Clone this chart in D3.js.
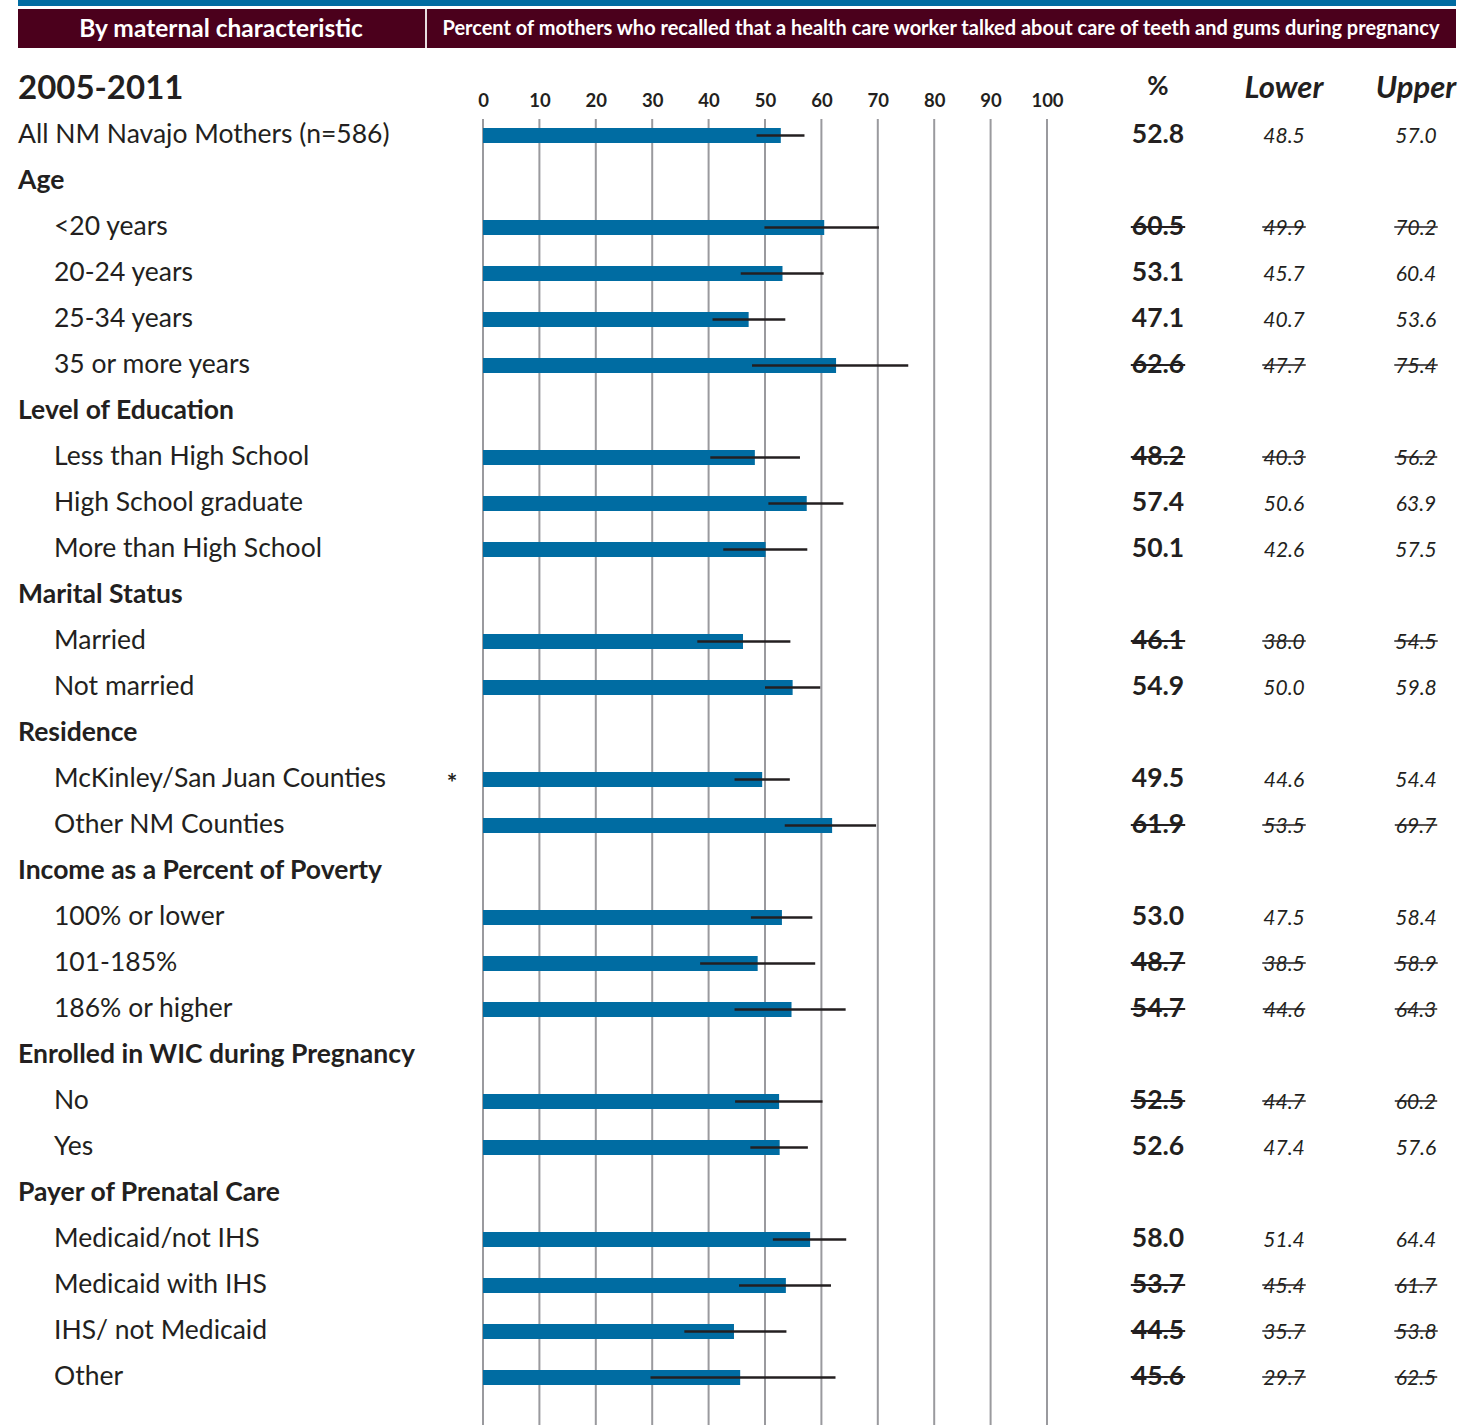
<!DOCTYPE html>
<html>
<head>
<meta charset="utf-8">
<script src="https://cdn.jsdelivr.net/npm/d3@7"></script>
<style>
  html, body { margin: 0; padding: 0; background: #fff; }
  svg { display: block; font-family: Lato, "Open Sans", sans-serif; }
</style>
</head>
<body>
<svg id="chart" width="1460" height="1425"></svg>
<script>
// Row labels; kind: "all" = overall row, "group" = section heading, "item" = subgroup
const rowLabels = [
  "All NM Navajo Mothers (n=586)",
  "Age", "<20 years", "20-24 years", "25-34 years", "35 or more years",
  "Level of Education", "Less than High School", "High School graduate", "More than High School",
  "Marital Status", "Married", "Not married",
  "Residence", "McKinley/San Juan Counties", "Other NM Counties",
  "Income as a Percent of Poverty", "100% or lower", "101-185%", "186% or higher",
  "Enrolled in WIC during Pregnancy", "No", "Yes",
  "Payer of Prenatal Care", "Medicaid/not IHS", "Medicaid with IHS", "IHS/ not Medicaid", "Other"
];
const rowKind = [
  "all",
  "group", "item", "item", "item", "item",
  "group", "item", "item", "item",
  "group", "item", "item",
  "group", "item", "item",
  "group", "item", "item", "item",
  "group", "item", "item",
  "group", "item", "item", "item", "item"
];
// Percent estimate with 95% confidence limits (null for section headings)
const pct = [52.8, null, 60.5, 53.1, 47.1, 62.6, null, 48.2, 57.4, 50.1, null, 46.1, 54.9,
  null, 49.5, 61.9, null, 53.0, 48.7, 54.7, null, 52.5, 52.6, null, 58.0, 53.7, 44.5, 45.6];
const lower = [48.5, null, 49.9, 45.7, 40.7, 47.7, null, 40.3, 50.6, 42.6, null, 38.0, 50.0,
  null, 44.6, 53.5, null, 47.5, 38.5, 44.6, null, 44.7, 47.4, null, 51.4, 45.4, 35.7, 29.7];
const upper = [57.0, null, 70.2, 60.4, 53.6, 75.4, null, 56.2, 63.9, 57.5, null, 54.5, 59.8,
  null, 54.4, 69.7, null, 58.4, 58.9, 64.3, null, 60.2, 57.6, null, 64.4, 61.7, 53.8, 62.5];
// Estimates flagged as unreliable (shown struck through)
const unreliable = [false, false, true, false, false, true, false, true, false, false, false, true, false,
  false, false, true, false, false, true, true, false, true, false, false, false, true, true, true];
// Rows marked with a significance asterisk
const starred = [false, false, false, false, false, false, false, false, false, false, false, false, false,
  false, true, false, false, false, false, false, false, false, false, false, false, false, false, false];
const xTicks = [0, 10, 20, 30, 40, 50, 60, 70, 80, 90, 100];

const svg = d3.select("#chart");
const maroon = "#4b001c", blue = "#006ca2", ink = "#231f20";

// Header bands
svg.append("rect").attr("x", 18).attr("y", 0).attr("width", 1438).attr("height", 6).attr("fill", blue);
svg.append("rect").attr("x", 18).attr("y", 9).attr("width", 1438).attr("height", 39).attr("fill", maroon);
svg.append("rect").attr("x", 425).attr("y", 9).attr("width", 2).attr("height", 39).attr("fill", "#e8dde0");
svg.append("text").attr("x", 221).attr("y", 37).attr("text-anchor", "middle")
  .attr("fill", "#fff").attr("font-weight", 700).attr("font-size", 24.5)
  .text("By maternal characteristic");
svg.append("text").attr("x", 941).attr("y", 35).attr("text-anchor", "middle")
  .attr("fill", "#fff").attr("font-weight", 700).attr("font-size", 20)
  .text("Percent of mothers who recalled that a health care worker talked about care of teeth and gums during pregnancy");

svg.append("text").attr("x", 18).attr("y", 99).attr("font-weight", 700).attr("font-size", 33)
  .attr("fill", ink).text("2005-2011");

// Scales
const x = d3.scaleLinear().domain([0, 100]).range([483, 1047]);
const y = d3.scalePoint().domain(d3.range(rowLabels.length)).range([134, 1376]);

// Axis: tick labels on top, gridlines running to the bottom
const axis = d3.axisTop(x).tickValues(xTicks).tickSize(0).tickPadding(0);
const ag = svg.append("g").attr("transform", "translate(0,107)").call(axis);
ag.select(".domain").remove();
ag.selectAll("text").attr("font-size", 18.5).attr("font-weight", 700).attr("fill", ink)
  .attr("font-family", "Lato, sans-serif");

svg.append("g").selectAll("line").data(xTicks).join("line")
  .attr("x1", d => x(d)).attr("x2", d => x(d))
  .attr("y1", 119).attr("y2", 1425)
  .attr("stroke", "#9a9a9e").attr("stroke-width", 2);

// Column headings
svg.append("text").attr("x", 1158).attr("y", 95).attr("text-anchor", "middle")
  .attr("font-weight", 700).attr("font-size", 26).attr("fill", ink).text("%");
svg.append("text").attr("x", 1284).attr("y", 98).attr("text-anchor", "middle")
  .attr("font-weight", 700).attr("font-style", "italic").attr("font-size", 31).attr("fill", ink).text("Lower");
svg.append("text").attr("x", 1416).attr("y", 98).attr("text-anchor", "middle")
  .attr("font-weight", 700).attr("font-style", "italic").attr("font-size", 31).attr("fill", ink).text("Upper");

const idx = d3.range(rowLabels.length);

// Row labels
svg.append("g").selectAll("text").data(idx).join("text")
  .attr("x", i => rowKind[i] === "item" ? 54 : 18)
  .attr("y", i => y(i) + 9)
  .attr("font-size", 26.5)
  .attr("font-weight", i => rowKind[i] === "group" ? 700 : 400)
  .attr("fill", ink)
  .text(i => rowLabels[i]);

// Asterisks
svg.append("g").selectAll("text").data(idx.filter(i => starred[i])).join("text")
  .attr("x", 452).attr("y", i => y(i) + 14).attr("text-anchor", "middle")
  .attr("font-size", 25).attr("font-weight", 700).attr("fill", ink).text("*");

const dataRows = idx.filter(i => pct[i] !== null);
const barH = 15;
const barMid = i => y(i) + 1.5;

// Bars
svg.append("g").selectAll("rect").data(dataRows).join("rect")
  .attr("x", x(0)).attr("y", i => barMid(i) - barH / 2)
  .attr("width", i => x(pct[i]) - x(0)).attr("height", barH)
  .attr("fill", blue);

// Confidence interval lines
svg.append("g").selectAll("line").data(dataRows).join("line")
  .attr("x1", i => x(lower[i])).attr("x2", i => x(upper[i]))
  .attr("y1", barMid).attr("y2", barMid)
  .attr("stroke", ink).attr("stroke-width", 2.5);

// Value columns
const cols = [
  { cx: 1158, vals: pct, weight: 700, style: "normal", size: 26.5 },
  { cx: 1284, vals: lower, weight: 400, style: "italic", size: 21 },
  { cx: 1416, vals: upper, weight: 400, style: "italic", size: 21 }
];
cols.forEach(c => {
  const g = svg.append("g");
  const t = g.selectAll("text").data(dataRows).join("text")
    .attr("x", c.cx).attr("y", i => y(i) + 9).attr("text-anchor", "middle")
    .attr("font-size", c.size).attr("font-weight", c.weight).attr("font-style", c.style)
    .attr("fill", ink).text(i => c.vals[i].toFixed(1));
  // strike through unreliable estimates
  t.each(function(i) {
    if (!unreliable[i]) return;
    const w = this.getComputedTextLength();
    g.append("line")
      .attr("x1", c.cx - w / 2 - 1).attr("x2", c.cx + w / 2 + 1)
      .attr("y1", y(i) + 1).attr("y2", y(i) + 1)
      .attr("stroke", ink).attr("stroke-width", c.weight === 700 ? 2 : 1.3);
  });
});
</script>
</body>
</html>
